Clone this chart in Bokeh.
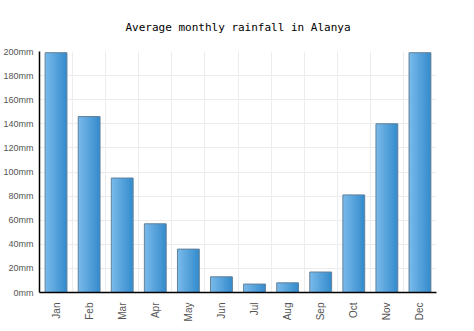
import math
from bokeh.plotting import figure
from bokeh.models import ColumnDataSource, FixedTicker, PrintfTickFormatter, Range1d
from bokeh.transform import dodge
from bokeh.embed import file_html
from bokeh.resources import INLINE

months = ["Jan", "Feb", "Mar", "Apr", "May", "Jun", "Jul", "Aug", "Sep", "Oct", "Nov", "Dec"]
rainfall = [199, 146, 95, 57, 36, 13, 7, 8, 17, 81, 140, 199]
y_ticks = [0, 20, 40, 60, 80, 100, 120, 140, 160, 180, 200]

xs = list(range(len(months)))
src = ColumnDataSource(dict(x=xs, top=rainfall, month=months))

p = figure(width=474, height=331, output_backend="svg", toolbar_location=None,
           x_range=Range1d(-0.5, 11.5), y_range=Range1d(0, 200),
           min_border_left=38, min_border_right=38, min_border_top=51, min_border_bottom=39,
           title="Average monthly rainfall in Alanya")
p.title.align = "center"
p.title.text_font = "DejaVu Sans Mono"
p.title.text_font_size = "11px"
p.title.text_font_style = "normal"
p.title.text_color = "#000000"
p.title.standoff = 35
p.outline_line_color = None

bar_w = 0.66
n = 16
sw = bar_w / n
c0 = (0x78, 0xba, 0xea)
c1 = (0x36, 0x8c, 0xce)
for i in range(n):
    t = i / (n - 1)
    col = "#%02x%02x%02x" % tuple(int(a + (b - a) * t) for a, b in zip(c0, c1))
    off = -bar_w / 2 + sw * (i + 0.5)
    w = sw * 1.6 if i < n - 1 else sw
    p.vbar(x=dodge("x", off + (w - sw) / 2), top="top", bottom=0, width=w, source=src,
           fill_color=col, line_color=None)
p.vbar(x="x", top="top", bottom=0, width=bar_w, source=src,
       fill_color=None, line_color="#62809a", line_width=1)

p.xaxis.ticker = FixedTicker(ticks=xs)
p.xaxis.major_label_overrides = {i: m for i, m in enumerate(months)}
p.xaxis.major_label_orientation = math.pi / 2
p.yaxis.ticker = FixedTicker(ticks=y_ticks)
p.yaxis.formatter = PrintfTickFormatter(format="%dmm")

for ax in (p.xaxis, p.yaxis):
    ax.axis_line_color = "#000000"
    ax.axis_line_width = 1.5
    ax.major_tick_line_color = None
    ax.minor_tick_line_color = None
    ax.major_label_text_font = "Liberation Sans"
    ax.major_label_text_color = "#555555"
p.xaxis.major_label_text_font_size = "10px"
p.xaxis.major_label_standoff = 4
p.yaxis.major_label_text_font_size = "9px"
p.yaxis.major_label_standoff = 0

p.xgrid.ticker = FixedTicker(ticks=[i + 0.5 for i in range(12)])
p.xgrid.grid_line_color = "#ececec"
p.ygrid.ticker = FixedTicker(ticks=y_ticks)
p.ygrid.grid_line_color = "#ececec"

open("out.html", "w").write(file_html(p, INLINE))
